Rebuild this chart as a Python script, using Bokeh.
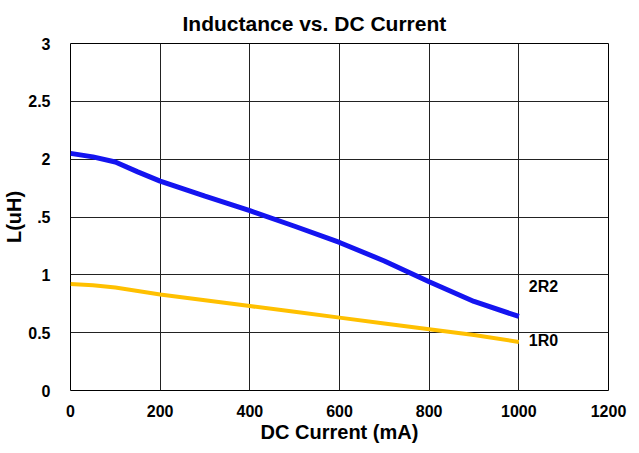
from bokeh.plotting import figure
from bokeh.models import Range1d, FixedTicker, Label
from bokeh.embed import file_html
from bokeh.resources import INLINE

current_ma = [0, 50, 100, 150, 200, 300, 400, 500, 600, 700, 800, 900, 1000]
l_2r2 = [2.05, 2.02, 1.975, 1.89, 1.81, 1.68, 1.555, 1.42, 1.28, 1.12, 0.94, 0.77, 0.64]
l_1r0 = [0.92, 0.91, 0.89, 0.86, 0.83, 0.78, 0.73, 0.68, 0.63, 0.58, 0.53, 0.48, 0.42]

x_ticks = [0, 200, 400, 600, 800, 1000, 1200]
y_ticks = [0, 0.5, 1, 1.5, 2, 2.5, 3]
y_tick_labels = {0: "0", 0.5: "0.5", 1: "1", 1.5: ".5", 2: "2", 2.5: "2.5", 3: "3"}

title_text = "Inductance vs. DC Current"
FONT = "Liberation Sans"

p = figure(width=631, height=445, output_backend="svg", toolbar_location=None,
           x_range=Range1d(x_ticks[0], x_ticks[-1]), y_range=Range1d(y_ticks[0], y_ticks[-1]),
           min_border_left=68, min_border_right=23, min_border_top=43, min_border_bottom=55,
           title=title_text)

p.title.align = "left"
p.title.offset = 112
p.title.standoff = 17
p.title.text_font = FONT
p.title.text_font_size = "21px"
p.title.text_font_style = "bold"
p.title.text_color = "black"

p.outline_line_color = "black"
p.outline_line_width = 1

for ax in (p.xaxis, p.yaxis):
    ax.axis_line_color = None
    ax.major_tick_line_color = None
    ax.minor_tick_line_color = None
    ax.major_label_text_font = FONT
    ax.major_label_text_font_size = "16px"
    ax.major_label_text_font_style = "bold"
    ax.major_label_text_color = "black"
    ax.axis_label_text_font = FONT
    ax.axis_label_text_font_size = "20px"
    ax.axis_label_text_font_style = "bold"
    ax.axis_label_text_color = "black"

p.xaxis.ticker = FixedTicker(ticks=x_ticks)
p.yaxis.ticker = FixedTicker(ticks=y_ticks)
p.yaxis.major_label_overrides = y_tick_labels
p.xaxis.axis_label = "DC Current (mA)"
p.yaxis.axis_label = "L(uH)"
p.xaxis.major_label_standoff = 8
p.yaxis.major_label_standoff = 14
p.xaxis.axis_label_standoff = 1
p.yaxis.axis_label_standoff = 0

p.xgrid.ticker = FixedTicker(ticks=x_ticks)
p.ygrid.ticker = FixedTicker(ticks=y_ticks)
p.grid.grid_line_color = "#222222"
p.grid.grid_line_width = 1

p.line(current_ma, l_2r2, line_color="#1414f0", line_width=5)
p.line(current_ma, l_1r0, line_color="#ffc000", line_width=4)

p.add_layout(Label(x=current_ma[-1], y=l_2r2[-1], x_offset=10, y_offset=30, text="2R2",
                   text_font=FONT, text_font_size="16px", text_font_style="bold",
                   text_color="black", text_baseline="middle"))
p.add_layout(Label(x=current_ma[-1], y=l_1r0[-1], x_offset=10, y_offset=1, text="1R0",
                   text_font=FONT, text_font_size="16px", text_font_style="bold",
                   text_color="black", text_baseline="middle"))

open("out.html", "w").write(file_html(p, INLINE))
